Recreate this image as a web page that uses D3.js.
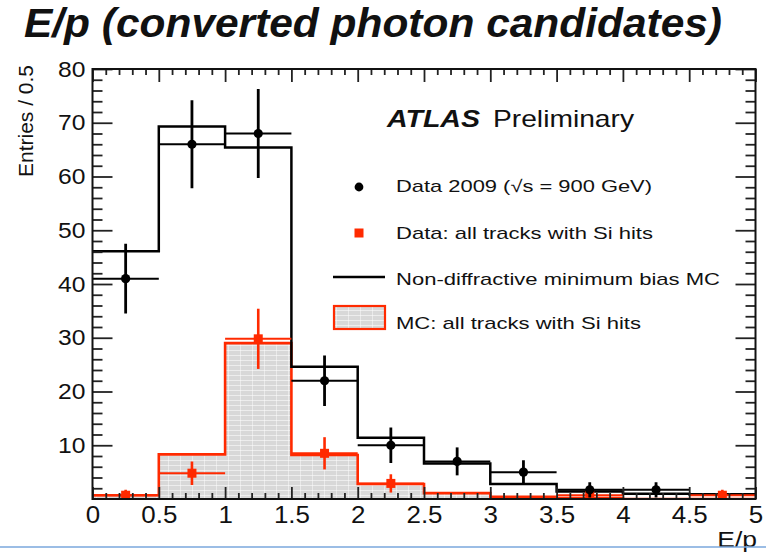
<!DOCTYPE html>
<html><head><meta charset="utf-8">
<script src="https://cdn.jsdelivr.net/npm/d3@7"></script>
<style>
body{margin:0;background:#fff;}
svg{display:block;}
text{font-family:"Liberation Sans",Arial,Helvetica,sans-serif;fill:#111;}
</style>
</head><body>
<svg id="c" width="766" height="553"></svg>
<script>
// ---------- data ----------
const binEdges   = [0,0.5,1,1.5,2,2.5,3,3.5,4,4.5,5];
const mcNonDiff  = [46.1,69.3,65.4,24.6,11.4,6.6,2.8,1.4,1.0,0.9];
const mcSiTracks = [0.7,8.3,29.0,8.2,2.8,1.1,0.4,0.2,0,0];
const dataX      = [0.25,0.75,1.25,1.75,2.25,2.75,3.25,3.75,4.25];
const dataY      = [41,66,68,22,10,7,5,1.7,1.7];
const dataErr    = [6.5,8.2,8.3,4.7,3.3,2.6,2.2,1.4,1.4];
const siX        = [0.25,0.75,1.25,1.75,2.25,3.75,4.75];
const siY        = [0.7,4.8,29.8,8.5,2.9,0.7,0.7];
const siErr      = [1.0,2.2,5.6,3.0,1.7,1.0,1.0];
const xTickValues = [0,0.5,1,1.5,2,2.5,3,3.5,4,4.5,5];
const xTickLabels = ["0","0.5","1","1.5","2","2.5","3","3.5","4","4.5","5"];
const yTickValues = [10,20,30,40,50,60,70,80];
const yTickLabels = ["10","20","30","40","50","60","70","80"];
const legendLabels = ["Data 2009 (\u221As = 900 GeV)","Data: all tracks with Si hits","Non-diffractive minimum bias MC","MC: all tracks with Si hits"];

// ---------- layout ----------
const L=92.5, R=755.5, T=69, B=499;
const svg = d3.select("#c");
const x = d3.scaleLinear().domain([0,5]).range([L,R]);
const y = d3.scaleLinear().domain([0,80]).range([B,T]);

function stretch(sel,f){ sel.each(function(){ const w=this.getComputedTextLength(); d3.select(this).attr("textLength",w*f).attr("lengthAdjust","spacingAndGlyphs"); }); }

const defs = svg.append("defs");
defs.append("clipPath").attr("id","plotclip").append("rect").attr("x",L).attr("y",T).attr("width",R-L).attr("height",B-T);
const pat = defs.append("pattern").attr("id","hatch").attr("patternUnits","userSpaceOnUse").attr("width",12).attr("height",5);
pat.append("rect").attr("width",12).attr("height",5).attr("fill","#d8d8d8");
pat.append("line").attr("x1",0).attr("x2",12).attr("y1",0.5).attr("y2",0.5).attr("stroke","#fff").attr("stroke-opacity",0.55).attr("stroke-width",1);
pat.append("line").attr("x1",0.5).attr("x2",0.5).attr("y1",0).attr("y2",5).attr("stroke","#fff").attr("stroke-opacity",0.45).attr("stroke-width",1);

// title
svg.append("text").attr("x",24).attr("y",37).attr("font-size",40).attr("font-weight","bold").attr("font-style","italic")
  .attr("textLength",698).attr("lengthAdjust","spacingAndGlyphs").text("E/p (converted photon candidates)");

// plot content
const plot = svg.append("g").attr("clip-path","url(#plotclip)");
const pts = vals => binEdges.map((e,i)=>[e, vals[Math.min(i, vals.length-1)]]);
const area = d3.area().x(d=>x(d[0])).y0(y(0)).y1(d=>y(d[1])).curve(d3.curveStepAfter);
const line = d3.line().x(d=>x(d[0])).y(d=>y(d[1])).curve(d3.curveStepAfter);

plot.append("path").attr("d",area(pts(mcSiTracks))).attr("fill","url(#hatch)");
plot.append("path").attr("d",line(pts(mcSiTracks))).attr("fill","none").attr("stroke","#ff2a00").attr("stroke-width",2.6);
plot.append("path").attr("d",line(pts(mcNonDiff))).attr("fill","none").attr("stroke","#000").attr("stroke-width",2.5);

// red data points
siX.forEach((xv,i)=>{
  const g = plot.append("g");
  g.append("line").attr("x1",x(xv-0.25)).attr("x2",x(xv+0.25)).attr("y1",y(siY[i])).attr("y2",y(siY[i])).attr("stroke","#ff2a00").attr("stroke-width",2);
  g.append("line").attr("x1",x(xv)).attr("x2",x(xv)).attr("y1",y(siY[i]-siErr[i])).attr("y2",y(siY[i]+siErr[i])).attr("stroke","#ff2a00").attr("stroke-width",2.6);
  g.append("rect").attr("x",x(xv)-4.5).attr("y",y(siY[i])-4.5).attr("width",9).attr("height",9).attr("fill","#ff2a00");
});
// black data points
dataX.forEach((xv,i)=>{
  const g = plot.append("g");
  g.append("line").attr("x1",x(xv-0.25)).attr("x2",x(xv+0.25)).attr("y1",y(dataY[i])).attr("y2",y(dataY[i])).attr("stroke","#000").attr("stroke-width",2);
  g.append("line").attr("x1",x(xv)).attr("x2",x(xv)).attr("y1",y(dataY[i]-dataErr[i])).attr("y2",y(dataY[i]+dataErr[i])).attr("stroke","#000").attr("stroke-width",2.8);
  g.append("circle").attr("cx",x(xv)).attr("cy",y(dataY[i])).attr("r",4.6).attr("fill","#000");
});

// axes
const minorY = d3.range(2,80,2).filter(v=>v%10!==0);
const minorX = d3.range(1,50).map(v=>v/10).filter(v=>Math.round(v*10)%5!==0);
function styleAx(g){ g.select(".domain").remove(); g.selectAll(".tick line").attr("stroke","#222").attr("stroke-width",1.8); }

const yl = svg.append("g").attr("transform",`translate(${L},0)`)
  .call(d3.axisLeft(y).tickValues(yTickValues).tickFormat((d,i)=>yTickLabels[i]).tickSizeInner(-20).tickSizeOuter(0).tickPadding(7));
styleAx(yl);
yl.selectAll("text").attr("font-size",22).attr("font-family","Liberation Sans, Arial, sans-serif").attr("fill","#111");
stretch(yl.selectAll("text"),1.12);
svg.append("g").attr("transform",`translate(${L},0)`).call(d3.axisLeft(y).tickValues(minorY).tickFormat("").tickSizeInner(-10).tickSizeOuter(0)).call(styleAx);

svg.append("g").attr("transform",`translate(${R},0)`).call(d3.axisRight(y).tickValues(yTickValues).tickFormat("").tickSizeInner(-20).tickSizeOuter(0)).call(styleAx);
svg.append("g").attr("transform",`translate(${R},0)`).call(d3.axisRight(y).tickValues(minorY).tickFormat("").tickSizeInner(-10).tickSizeOuter(0)).call(styleAx);

const xb = svg.append("g").attr("transform",`translate(0,${B})`)
  .call(d3.axisBottom(x).tickValues(xTickValues).tickFormat((d,i)=>xTickLabels[i]).tickSizeInner(-12).tickSizeOuter(0).tickPadding(7));
styleAx(xb);
xb.selectAll("text").attr("font-size",24).attr("font-family","Liberation Sans, Arial, sans-serif").attr("fill","#111");
stretch(xb.selectAll("text"),1.08);
svg.append("g").attr("transform",`translate(0,${B})`).call(d3.axisBottom(x).tickValues(minorX).tickFormat("").tickSizeInner(-6).tickSizeOuter(0)).call(styleAx);
svg.append("g").attr("transform",`translate(0,${T})`).call(d3.axisTop(x).tickValues(xTickValues).tickFormat("").tickSizeInner(-13).tickSizeOuter(0)).call(styleAx);
svg.append("g").attr("transform",`translate(0,${T})`).call(d3.axisTop(x).tickValues(minorX).tickFormat("").tickSizeInner(-6).tickSizeOuter(0)).call(styleAx);

// frame
svg.append("rect").attr("x",L).attr("y",T).attr("width",R-L).attr("height",B-T).attr("fill","none").attr("stroke","#111").attr("stroke-width",2);

// axis titles
svg.append("text").attr("transform","translate(33,121) rotate(-90)").attr("text-anchor","middle").attr("font-size",21).text("Entries / 0.5");
const xt = svg.append("text").attr("x",757).attr("y",547).attr("text-anchor","end").attr("font-size",22).text("E/p");
stretch(xt,1.2);

// blue slide line
svg.append("line").attr("x1",0).attr("x2",766).attr("y1",547).attr("y2",547).attr("stroke","#7aa7dd").attr("stroke-width",1.6);

// ATLAS label
svg.append("text").attr("x",387).attr("y",127).attr("font-size",24).attr("font-weight","bold").attr("font-style","italic")
  .attr("textLength",93).attr("lengthAdjust","spacingAndGlyphs").text("ATLAS");
svg.append("text").attr("x",493).attr("y",127).attr("font-size",24)
  .attr("textLength",141).attr("lengthAdjust","spacingAndGlyphs").text("Preliminary");

// legend
const legY = [191.5,238.5,285,329];
const legW = [256,257,324,245];
legendLabels.forEach((t,i)=>{
  svg.append("text").attr("x",396).attr("y",legY[i]).attr("font-size",17).attr("fill","#1a1a1a")
    .attr("textLength",legW[i]).attr("lengthAdjust","spacingAndGlyphs").text(t);
});
svg.append("circle").attr("cx",359).attr("cy",187).attr("r",4.4).attr("fill","#000");
svg.append("rect").attr("x",354.5).attr("y",228.5).attr("width",9).attr("height",9).attr("fill","#ff2a00");
svg.append("line").attr("x1",333).attr("x2",385).attr("y1",277).attr("y2",277).attr("stroke","#000").attr("stroke-width",2.6);
svg.append("rect").attr("x",334).attr("y",306).attr("width",51).attr("height",23).attr("fill","url(#hatch)").attr("stroke","#ff2a00").attr("stroke-width",2.2);
</script>
</body></html>
